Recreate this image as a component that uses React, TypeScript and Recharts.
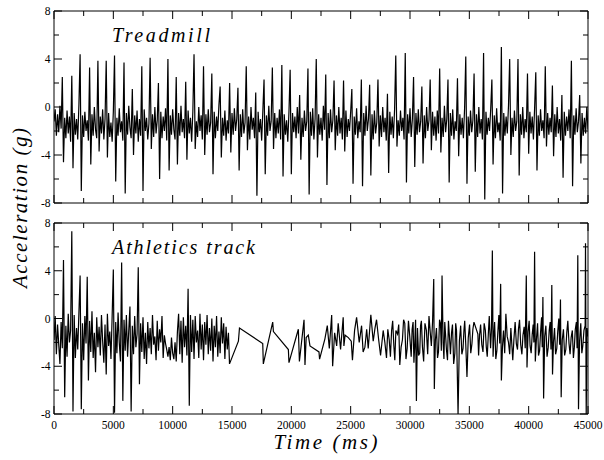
import React from 'react';
import { LineChart, Line, XAxis, YAxis } from 'recharts';

// x axis ticks (ms) and y axis ticks (g)
const TIME_TICKS = [0, 2500, 5000, 7500, 10000, 12500, 15000, 17500, 20000, 22500, 25000, 27500, 30000, 32500, 35000, 37500, 40000, 42500, 45000];
const ACC_TICKS = [-8, -6, -4, -2, 0, 2, 4, 6, 8];

// treadmill, one sample every 100 ms, 5 s per block
const treadmill0 = [-1.2, -0.2, -2.4, -0.6, -2.1, 0.1, -1.8, 2.5, -4.6, -0.9, -2.6, -0.3, -2.2, -0.8, -2.9, 2.6, -5.1, -0.5, -2.3, -1.0, -2.7, 0.2, 4.4, -7.0, -0.7, -2.5, -0.4, -2.0, -1.1, -2.8, 3.3, -4.8, -0.6, -2.4, 0.0, -1.9, -2.6, 3.85, -3.7, -0.8, -2.2, -0.2, -2.7, -1.0, 3.85, -4.2, -0.5, -2.5, -1.3, -2.9];
const treadmill1 = [-0.4, 4.3, -6.2, -0.9, -2.4, -0.1, -2.1, -1.2, -2.8, 3.7, -7.2, -0.5, -2.3, 0.1, -1.7, -2.6, 1.5, -4.0, -0.7, -2.2, -0.3, -2.9, -1.0, -2.4, 3.4, -7.0, -0.2, -2.0, -0.9, -2.7, -1.4, 4.1, -3.5, -0.6, -2.5, 0.0, -2.2, -1.1, 2.0, -6.0, -0.4, -2.6, -0.8, -2.0, -0.1, -2.8, 4.0, -5.3, -0.7, -2.3];
const treadmill2 = [-0.2, -1.9, -2.7, 2.5, -4.8, -0.5, -2.4, 0.1, -2.1, -1.0, -2.6, 2.1, -4.4, -0.3, -2.2, -0.9, -2.9, -0.4, 4.4, -3.5, -1.2, -2.5, 0.0, -2.0, -0.7, -2.7, 3.4, -4.0, -0.6, -2.3, -0.2, -2.1, -1.3, 2.8, -5.6, -0.4, -2.6, -0.8, -2.0, 0.2, 1.7, -4.2, -0.9, -2.4, -0.3, -2.8, -1.1, -2.2, 2.0, -3.8];
const treadmill3 = [-0.5, -2.3, -0.1, -2.0, -1.0, 1.6, -5.3, -0.6, -2.5, -0.2, -2.2, -1.3, 3.4, -3.6, -0.8, -2.7, 0.0, -1.9, -0.9, -2.6, 1.2, -7.4, -0.4, -2.1, -1.0, -2.8, -0.3, 2.3, -5.6, -0.7, -2.4, 0.1, -2.0, -1.2, 3.3, -3.5, -0.5, -2.6, -0.9, -2.2, -0.2, -2.7, 3.5, -5.8, -0.6, -2.3, -1.1, -2.9, -0.4, 3.1];
const treadmill4 = [-5.6, -0.5, -2.1, -0.8, -2.6, 0.0, -2.2, 1.0, -4.4, -0.9, -2.5, -0.3, -2.0, -1.2, 3.2, -7.3, -0.4, -2.4, -0.1, -2.7, -1.0, 4.0, -4.2, -0.6, -2.3, -0.9, -2.8, 0.1, -1.9, 2.7, -6.5, -0.5, -2.6, -0.2, -2.1, -1.1, 2.2, -3.6, -0.7, -2.4, 0.0, -2.2, -0.9, -2.7, 2.2, -3.7, -0.3, -2.5, -1.0, -2.0];
const treadmill5 = [-0.4, 1.5, -6.4, -0.8, -2.3, -0.1, -2.6, -1.2, -2.1, 2.3, -6.6, -0.5, -2.4, 0.1, -2.0, -1.0, 1.85, -5.7, -0.6, -2.7, -0.3, -2.2, -1.3, 2.3, -3.3, -0.7, -2.5, 0.0, -2.1, -0.9, -2.8, 1.1, -5.5, -0.4, -2.3, -0.8, -2.6, -0.2, 4.3, -3.3, -1.1, -2.4, -0.3, -2.0, -0.9, -2.7, 4.5, -6.3, -0.6, -2.2];
const treadmill6 = [-0.1, -2.5, -1.0, 2.5, -5.0, -0.5, -2.3, -0.2, -2.1, -1.2, 1.7, -4.7, -0.7, -2.6, 0.0, -2.0, -1.1, 2.3, -3.6, -0.4, -2.4, -0.8, -2.8, -0.3, -2.2, 3.2, -3.8, -0.9, -2.5, 0.1, -2.1, -1.0, 2.3, -6.3, -0.5, -2.4, -0.2, -2.7, -1.2, -2.0, 2.4, -4.1, -0.6, -2.3, -0.9, -2.6, -0.1, 4.2, -6.4, -0.8];
const treadmill7 = [-2.4, -0.3, -2.1, -1.1, 2.8, -5.4, -0.6, -2.5, 0.0, -2.2, -1.0, -2.7, 4.5, -7.7, -0.4, -2.3, -0.9, -2.0, -0.2, 2.3, -4.8, -0.7, -2.6, -0.1, -2.1, -1.3, -2.8, 5.0, -7.2, -0.5, -2.4, -0.8, -2.2, 0.1, 4.0, -4.0, -0.9, -2.5, -0.3, -2.0, -1.2, 4.0, -5.7, -0.6, -2.3, 0.0, -2.6, -1.0, -2.1, 2.8];
const treadmill8 = [-3.9, -0.4, -2.2, -0.8, -2.7, -0.1, 2.9, -5.3, -0.7, -2.4, -0.2, -2.0, -1.1, -2.6, 3.4, -3.3, -0.5, -2.3, -0.9, -2.1, 1.8, -4.1, -0.6, -2.5, 0.0, -2.2, -1.0, -2.8, 1.0, -5.9, -0.4, -2.4, -0.8, -2.0, -0.2, -2.6, 3.85, -6.6, -0.7, -2.3, -0.1, -2.1, -1.2, 1.0, -4.7, -0.5, -2.4, -0.9, -2.2, 0.0, -1.9];

// athletics track, first 14.7 s sampled every 100 ms
const trackStart = [-1.8, 0.2, -3.0, -0.5, -2.2, -3.8, -0.3, -2.5, 4.9, -6.6, -0.6, -3.2, 0.4, -2.0, -1.0, 7.3, -7.8, 0.3, -3.3, -0.8, -2.6, 0.5, 3.6, -7.6, -0.4, -3.5, 0.2, -2.1, 3.5, -5.2, -0.2, -2.8, 0.6, -3.3, -1.2, -4.5, 0.1, -2.4, -0.7, -3.1, 0.3, -1.9, -3.7, -0.5, -4.7, 0.4, -2.3, -1.1, -3.4, 0.2, 4.1, -7.9, -0.3, -2.9, 0.5, -2.0, -3.6, 4.7, -6.9, -0.1, -2.7, 0.3, -3.2, -1.0, 1.0, -7.8, -0.6, -3.0, 0.2, -2.4, -1.3, 4.3, -5.5, -0.4];
const trackEarly = [-2.8, 0.1, -3.4, -1.2, -3.8, -0.3, -2.5, -0.8, -3.0, 0.3, -2.2, -1.5, -3.5, -0.2, -2.7, -0.9, -2.0, 0.2, -3.3, -1.4, -2.1, -2.6, -3.2, -2.4, -3.5, -1.6, -2.9, -3.4, -2.0, -3.6, -1.1, 0.4, -3.0, -0.2, -3.7, 0.1, -2.4, -0.6, -3.1, 2.5, -7.3, 0.3, -2.8, -0.1, -3.4, 0.2, -2.0, -1.0, -3.3, 0.4, -2.6, -0.5, -3.5, -0.3, -2.2, 0.3, -3.0, -0.8, -2.7, 0.0, -3.6, -0.6, -2.4, 0.2, -3.2, -1.1, -2.9, 0.1, -2.1, -0.4, -3.4, -0.7, -2.6, -1.2];

// sparse stretch and later parts, [ms, g]
const trackGap = [
  [14790, -3.8], [15540, -1.9], [15630, -0.8], [17590, -2.1], [17640, -3.8], [18430, -0.3], [18490, -1.1],
  [19750, -2.6], [19800, -3.7], [20590, -0.9], [20680, -3.6], [21070, -0.1], [21150, -3.9], [21250, -1.6],
  [21430, -1.4], [21570, -2.3], [22330, -2.8], [22380, -3.4], [22830, -1.7], [23030, -0.6],
];
const trackMid = [
  [23200, -2.5], [23400, 0.3], [23480, -4.0], [23650, -1.2], [23820, -2.3], [23950, -0.4], [24150, -2.6],
  [24370, 0.1], [24430, -2.3], [24530, -1.4], [24800, -1.6], [25050, -1.9], [25150, -3.5], [25330, -1.0],
  [25500, 0.1], [25720, -2.0], [25920, -0.6], [26050, -2.8], [26200, -2.4], [26350, -0.9], [26480, -2.5],
  [26700, 0.3], [26900, -1.9], [27050, -0.8], [27180, -0.1], [27350, -1.7], [27520, -3.1], [27740, -1.0],
  [27880, -2.0], [28020, -3.3], [28130, -0.9], [28250, -1.8], [28350, -3.2], [28450, -1.0], [28540, -0.2],
  [28640, -2.3], [28720, -3.5], [28810, -1.0], [28950, -1.3], [29050, -0.5], [29140, -3.9], [29250, -2.4],
  [29360, -1.8], [29460, -0.1], [29560, -0.4], [29660, -3.4], [29760, -2.5], [29870, -0.2], [29980, -1.5],
  [30100, -3.2], [30180, -0.9], [30260, -0.3], [30330, -3.7], [30400, -2.2], [30470, -0.1], [30540, -6.9],
  [30630, -0.8], [30720, -3.1], [30820, -2.9], [30890, -0.6], [30960, -0.2], [31050, -2.4], [31150, -3.6],
  [31260, -0.4], [31380, -1.0], [31490, -3.0], [31600, 0.2], [31700, -1.1], [31800, -2.3], [31900, -0.3],
  [32000, 3.3], [32050, -5.9], [32140, -1.8], [32230, -0.8], [32320, -3.3], [32400, -2.8], [32490, -0.1],
  [32570, -0.4], [32640, -2.7], [32700, 3.6], [32790, -2.0], [32860, -3.4], [32930, -0.3], [33000, -1.4],
  [33070, -2.6], [33160, -3.5], [33240, -0.2], [33330, -1.6], [33410, -3.0], [33500, -1.2], [33580, -0.5],
  [33680, -3.8], [33780, -2.9], [33850, -0.4], [33920, -1.0],
];
const trackEnd = [
  [34050, -8], [34160, -1.9], [34270, -0.6], [34370, -3.0], [34470, -2.5], [34540, -1.1], [34610, -0.2],
  [34700, -2.2], [34800, -4.9], [34910, -1.6], [35020, -0.5], [35120, -2.9], [35220, -2.1], [35300, -0.9],
  [35390, -0.3], [35720, -1.3], [35780, -3.1], [35860, -1.4], [35950, -0.5], [36050, -2.2], [36150, -2.8],
  [36250, -0.4], [36350, -1.0], [36430, -2.4], [36510, -3.2], [36600, -1.3], [36680, 0.2], [36790, -2.5],
  [36870, -0.8], [36940, 5.7], [37000, -3.2], [37060, -1.6], [37130, -0.3], [37230, -3.4], [37320, -2.7],
  [37400, -1.2], [37490, 0.3], [37560, -2.1], [37640, 2.9], [37700, -5.2], [37790, -2.4], [37880, -1.0],
  [37980, -2.9], [38080, 0.4], [38190, -1.5], [38300, -2.0], [38400, -3.0], [38500, -0.8], [38660, -3.5],
  [38760, -1.7], [38860, -0.3], [38960, -2.1], [39060, -2.6], [39140, -0.9], [39230, -0.1], [39330, -2.2],
  [39430, -3.0], [39520, -1.4], [39620, -0.7], [39710, -2.5], [39800, 3.6], [39860, -4.1], [39950, -1.1],
  [40040, -0.2], [40120, -2.3], [40210, -2.9], [40300, -1.3], [40380, -0.5], [40440, -2.0], [40500, 5.6],
  [40560, -3.6], [40650, -1.8], [40750, -0.4], [40830, -3.1], [40920, -2.7], [41000, -1.2], [41090, 0.1],
  [41140, -2.4], [41200, 1.8], [41260, -6.7], [41350, -1.5], [41450, -0.6], [41550, -3.2], [41650, -2.4],
  [41730, -1.0], [41810, -0.3], [41880, -2.6], [41950, 2.8], [42010, -4.7], [42090, -2.0], [42180, -0.8],
  [42270, -3.0], [42370, -2.5], [42450, -1.1], [42540, 0.0], [42610, -2.2], [42680, 1.6], [42740, -6.6],
  [42830, -1.8], [42930, -0.9], [43030, -3.1], [43130, -2.6], [43210, -1.2], [43300, -0.2], [43400, -2.1],
  [43490, -3.0], [43580, -1.6], [43680, -1.0], [43770, -3.3], [43850, -2.4], [43930, -0.9], [44020, -0.3],
  [44080, -2.5], [44140, 5.3], [44200, -7.6], [44290, -1.9], [44390, -0.4], [44480, -2.9], [44560, -2.3],
  [44660, -1.0], [44760, -0.6], [44790, 6.3], [44850, -8], [44920, -0.8], [45000, -1.5],
];

const treadmillData = [
  ...treadmill0, ...treadmill1, ...treadmill2, ...treadmill3, ...treadmill4,
  ...treadmill5, ...treadmill6, ...treadmill7, ...treadmill8,
].map((v, i) => ({ t: i * 100, v }));

const athleticsData = [
  ...[...trackStart, ...trackEarly].map((v, i) => ({ t: i * 100, v })),
  ...[...trackGap, ...trackMid, ...trackEnd].map(([t, v]) => ({ t, v })),
];

const SERIF = 'Liberation Serif';

const TimeTick = ({ x, y, payload, side, showLabel }: any) => {
  const major = payload.value % 5000 === 0;
  const len = major ? 8 : 5;
  const dir = side === 'top' ? 1 : -1;
  return (
    <g>
      <line x1={x} y1={y} x2={x} y2={y + dir * len} stroke="#000" strokeWidth={1} />
      {showLabel && major && (
        <text x={x} y={y + 15} textAnchor="middle" fontFamily={SERIF} fontSize={11.5} fill="#000">
          {payload.value}
        </text>
      )}
    </g>
  );
};

const AccTick = ({ x, y, payload, side }: any) => {
  const major = payload.value % 4 === 0;
  const len = major ? 8 : 5;
  const dir = side === 'right' ? -1 : 1;
  return (
    <g>
      <line x1={x} y1={y} x2={x + dir * len} y2={y} stroke="#000" strokeWidth={1} />
      {side === 'left' && major && (
        <text x={x - 3.5} y={y + 4} textAnchor="end" fontFamily={SERIF} fontSize={11.5} fill="#000">
          {payload.value}
        </text>
      )}
    </g>
  );
};

function Panel({ data, height, marginBottom, showLabels }: any) {
  return (
    <LineChart width={604} height={height} data={data} margin={{ top: 10, right: 15, bottom: marginBottom, left: 0 }}>
      <XAxis
        dataKey="t" type="number" domain={[0, 45000]} ticks={TIME_TICKS} interval={0} allowDataOverflow
        height={1} tickSize={0} tickMargin={0} tickLine={false}
        axisLine={{ stroke: '#000', strokeWidth: 1 }}
        tick={<TimeTick side="bottom" showLabel={showLabels} />}
      />
      <XAxis
        xAxisId="top" orientation="top" dataKey="t" type="number" domain={[0, 45000]} ticks={TIME_TICKS}
        interval={0} allowDataOverflow height={1} tickSize={0} tickMargin={0} tickLine={false}
        axisLine={{ stroke: '#000', strokeWidth: 1 }}
        tick={<TimeTick side="top" showLabel={false} />}
      />
      <YAxis
        type="number" domain={[-8, 8]} ticks={ACC_TICKS} interval={0} allowDataOverflow width={54}
        tickSize={0} tickMargin={0} tickLine={false} axisLine={{ stroke: '#000', strokeWidth: 1 }}
        tick={<AccTick side="left" />}
      />
      <YAxis
        yAxisId="right" orientation="right" type="number" domain={[-8, 8]} ticks={ACC_TICKS} interval={0}
        allowDataOverflow width={1} tickSize={0} tickMargin={0} tickLine={false}
        axisLine={{ stroke: '#000', strokeWidth: 1 }}
        tick={<AccTick side="right" />}
      />
      <Line type="linear" dataKey="v" stroke="#000" strokeWidth={1.2} dot={false} activeDot={false} isAnimationActive={false} />
    </LineChart>
  );
}

export default function App() {
  return (
    <div style={{ position: 'absolute', left: 0, top: 0, width: 604, height: 460, background: '#fff', overflow: 'hidden' }}>
      <div style={{ position: 'absolute', left: 0, top: 0 }}>
        <Panel data={treadmillData} height={214} marginBottom={10} showLabels={false} />
      </div>
      <div style={{ position: 'absolute', left: 0, top: 212 }}>
        <Panel data={athleticsData} height={248} marginBottom={45} showLabels />
      </div>
      <svg width={604} height={460} style={{ position: 'absolute', left: 0, top: 0, pointerEvents: 'none' }}>
        <g fontFamily={SERIF} fontStyle="italic" fill="#000">
          <text x={112} y={41.5} fontSize={20} textLength={98} lengthAdjust="spacing">Treadmill</text>
          <text x={112} y={253.5} fontSize={20} textLength={143} lengthAdjust="spacing">Athletics track</text>
          <text x={273.5} y={449} fontSize={21} textLength={104} lengthAdjust="spacing">Time (ms)</text>
          <text
            x={27} y={208} fontSize={21} textAnchor="middle" textLength={160} lengthAdjust="spacing"
            transform="rotate(-90, 27, 208)"
          >
            Acceleration (g)
          </text>
        </g>
      </svg>
    </div>
  );
}
